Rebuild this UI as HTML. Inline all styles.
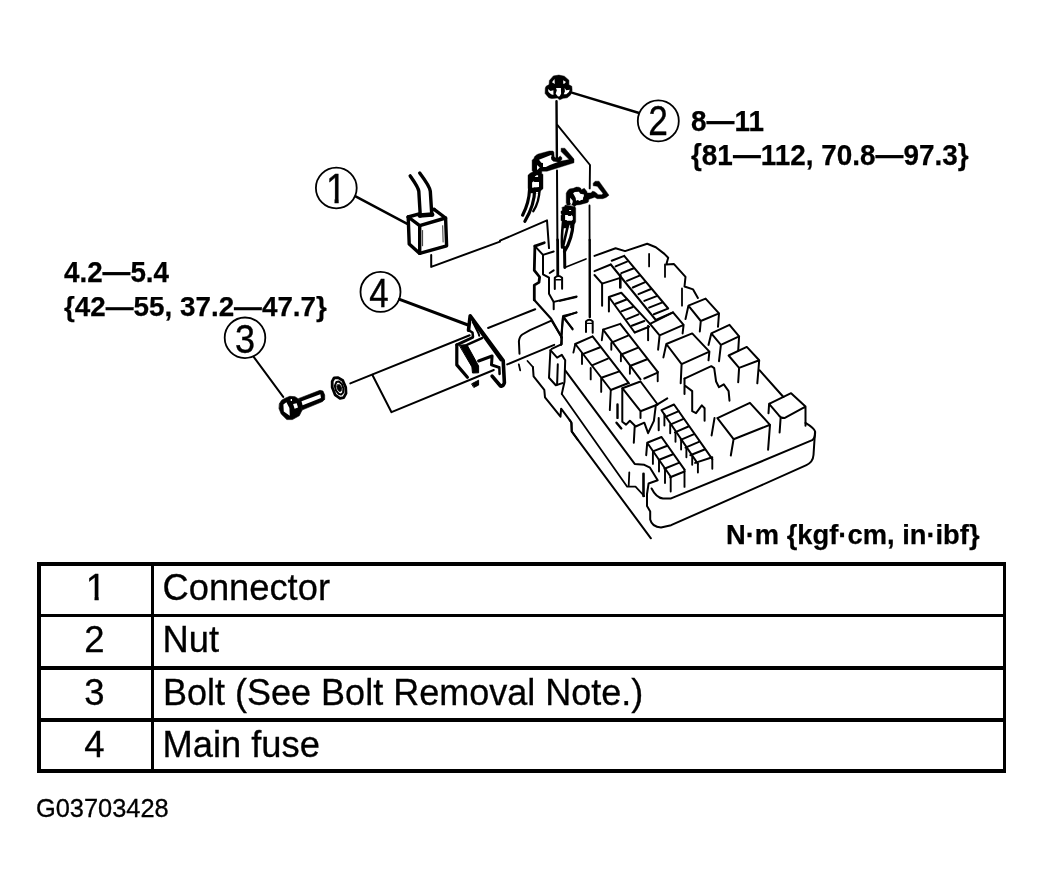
<!DOCTYPE html>
<html><head><meta charset="utf-8"><title>Main fuse removal</title>
<style>
html,body{margin:0;padding:0;background:#fff;}
body{filter:grayscale(1);width:1044px;height:893px;position:relative;overflow:hidden;font-family:"Liberation Sans",sans-serif;color:#000;}
.lbl{position:absolute;-webkit-text-stroke:0.25px #000;font-weight:bold;font-size:27.5px;line-height:1;white-space:nowrap;transform-origin:0 0;}
.tb{position:absolute;background:#000;}
.num,.txt,#code{-webkit-text-stroke:0.3px #000;}
.num{position:absolute;left:39.5px;width:110px;text-align:center;font-size:36.5px;line-height:1;}
.txt{position:absolute;left:162.5px;font-size:36.3px;line-height:1;white-space:nowrap;transform-origin:0 0;}
.cn{position:absolute;width:40px;text-align:center;font-size:40px;line-height:1;transform:scaleX(.86);-webkit-text-stroke:0.4px #000;}
.one{display:inline-block;clip-path:polygon(0 -10%,100% -10%,100% 73.6%,.352em 73.6%,.352em 110%,.238em 110%,.238em 73.6%,0 73.6%);}
#code{position:absolute;left:36px;top:796px;font-size:25.4px;line-height:1;transform-origin:0 0;}
svg{position:absolute;left:0;top:0;}
</style></head><body>
<svg id="art" width="1044" height="893" viewBox="0 0 1044 893">
<g id="callouts" fill="none" stroke="#000" stroke-width="1.8">
<circle cx="336.3" cy="188" r="20.4"/>
<circle cx="658.3" cy="120.9" r="20.5"/>
<circle cx="245" cy="337.8" r="20.3"/>
<circle cx="380.5" cy="291.9" r="20"/>
</g>
<g id="leaders" fill="none" stroke="#000" stroke-width="2.6" stroke-linecap="round">
<path d="M355.6,196.4 L407.3,223.8" stroke-width="2.5"/>
<path d="M571.8,92.6 L638.3,112.7" stroke-width="2.5"/>
<path d="M253.5,356.6 L283.2,396.9" stroke-width="2"/>
<path d="M399.6,299.4 L468,325" stroke-width="3"/>
</g>
<!--DRAWING-->
<g id="drawing" fill="none" stroke="#000" stroke-width="2" stroke-linecap="round" stroke-linejoin="round">
<path d="M549.1,84.5 L549.4,80.5 L553.4,75.9 L558.9,75.1 L564.3,76.2 L568.9,80.2 L568.9,84.8 L571.8,86.3 L572.1,90.3 L570.6,94.9 L567.2,97.8 L563.2,98.3 L559.7,99.8 L557.4,98.0 L551.7,98.6 L548.8,97.8 L545.1,93.4 L545.3,88.0 L546.2,86.3 Z" stroke-width="0.5" fill="#000"/>
<path d="M552.0,82.2 L554.5,79.1 L554.8,84.0 Z M563.2,80.2 L566.0,82.0 L564.0,84.0 L563.2,83.4 Z M547.9,89.1 L550.5,90.9 L553.4,90.3 L553.4,94.9 L551.1,94.3 L548.5,92.0 Z M556.0,88.0 L560.9,88.0 L561.1,93.7 L559.7,96.3 L558.0,96.6 L555.7,93.7 L556.8,90.3 Z M564.6,88.0 L566.3,90.3 L569.8,89.7 L568.9,92.0 L566.3,94.3 L563.7,94.3 L564.9,91.4 Z" stroke-width="0" fill="#fff" stroke="none"/>
<path d="M556.5,101.2 L556.9,157.7" stroke-width="2.4"/>
<path d="M557.0,170.5 L557.4,240.0" stroke-width="2.0"/>
<path d="M557.6,240.0 L557.8,275.5" stroke-width="2.8"/>
<path d="M557.5,125.1 L590.0,165.0 L589.7,188.4" stroke-width="1.9"/>
<path d="M589.5,205.5 L589.6,240.0" stroke-width="1.8"/>
<path d="M589.7,240.0 L589.8,317.0" stroke-width="2.4"/>
<path d="M532.1,170.6 L532.1,160.2 L534.1,158.2 L534.4,156.8 L536.7,154.8 L538.4,153.9 L549.3,151.0 L553.0,151.0 L553.9,152.2 L554.2,156.8 L555.9,158.1 L557.9,158.1 L560.2,155.9 L562.0,157.7 L561.7,159.7 L560.2,161.3 L569.1,159.6 L561.1,151.6 L561.1,148.2 L564.8,148.2 L574.0,159.1 L574.0,162.8 L567.7,164.8 L547.0,171.2 L541.8,171.2 L541.8,174.0 L543.0,174.3 L543.0,188.7 L540.1,191.3 L539.8,193.0 L529.2,193.0 L529.2,189.0 L528.0,188.7 L528.0,175.2 L530.1,173.2 L533.2,171.7 Z" stroke-width="0.4" fill="#000"/>
<path d="M539.0,159.7 L551.0,155.1 L551.9,155.9 L551.0,157.1 L551.3,159.4 L553.3,161.4 L557.9,162.0 L549.9,165.1 L545.9,166.9 L543.0,166.9 L543.0,163.1 L541.3,162.8 Z M537.0,165.1 L539.8,167.4 L537.5,169.7 L537.0,169.7 Z M534.9,176.6 L536.7,175.2 L538.1,175.2 L538.1,176.9 L534.9,176.9 Z M532.1,182.4 L533.5,181.2 L534.4,182.1 L539.0,182.1 L539.0,187.0 L532.1,187.8 Z M532.9,193.1 L533.5,191.9 L539.3,191.9 L539.8,193.1 Z" stroke-width="0" fill="#fff" stroke="none"/>
<path d="M529.6,189.0 C529.3,197.8 527.5,205.8 522.6,215.2" stroke-width="3.2"/>
<path d="M534.7,189.0 C534.7,200.5 530.9,211.2 524.9,221.3" stroke-width="3.2"/>
<path d="M539.6,189.0 C539.4,197.8 537.6,204.5 533.3,211.2" stroke-width="2.4"/>
<path d="M566.2,202.7 L566.2,193.2 L567.4,190.9 L569.4,188.9 L573.4,188.3 L576.3,187.1 L578.9,187.2 L580.9,188.3 L581.1,189.8 L584.3,188.3 L586.9,191.5 L587.2,192.9 L590.9,192.9 L592.4,191.2 L594.1,191.5 L596.4,192.9 L598.1,194.7 L601.8,194.7 L603.0,193.5 L597.2,186.3 L593.2,185.8 L593.2,183.2 L595.2,181.2 L599.0,181.2 L609.0,195.2 L606.1,197.5 L602.7,198.7 L597.2,198.7 L594.7,197.3 L591.2,198.4 L588.9,199.3 L588.3,202.1 L587.2,202.7 L579.7,204.7 L576.3,205.0 L574.8,206.7 L572.2,205.0 L569.9,205.0 L567.1,205.0 Z" stroke-width="0.4" fill="#000"/>
<path d="M562.2,207.3 L564.2,206.7 L565.3,205.0 L574.8,206.7 L575.7,207.9 L575.7,221.7 L574.8,223.7 L572.8,224.0 L572.8,228.1 L570.2,228.1 L570.2,224.8 L567.1,224.8 L566.8,228.1 L562.2,228.1 L562.2,221.1 L561.0,220.8 L561.0,215.4 L561.9,214.2 L561.0,213.6 L561.0,211.0 L562.2,210.8 Z" stroke-width="0.4" fill="#000"/>
<path d="M573.1,193.2 L574.8,192.1 L578.9,191.8 L580.3,193.8 L584.0,194.4 L583.7,196.7 L583.2,197.3 L582.9,199.8 L581.1,200.1 L579.7,201.0 L577.7,200.1 L576.0,200.7 L575.7,198.1 L574.5,195.8 Z M570.1,197.8 L572.2,200.1 L572.8,201.0 L572.5,202.7 L571.7,204.7 L570.1,204.7 L570.8,203.3 L570.1,202.7 Z M569.1,209.9 L571.1,209.9 L571.1,211.0 L569.1,211.0 Z M565.1,215.1 L567.6,215.1 L568.5,215.9 L570.8,215.9 L571.4,215.1 L572.8,216.5 L572.8,219.7 L571.7,220.8 L567.1,220.8 L566.5,220.0 L565.1,220.0 Z" stroke-width="0" fill="#fff" stroke="none"/>
<path d="M563.1,222.2 C562.1,231.4 561.5,239.4 562.1,247.5" stroke-width="2.6"/>
<path d="M573.2,222.2 C572.6,234.0 570.5,242.1 564.5,251.5" stroke-width="3.2"/>
<path d="M568.3,224.0 L563.1,246.1" stroke-width="2.6"/>
<path d="M564.5,247.5 L564.8,267.6" stroke-width="3"/>
<path d="M564.8,267.6 L586.0,258.9" stroke-width="1.6"/>
<path d="M408.2,217.0 L419.7,225.7 L445.6,218.0 L434.1,209.4" stroke-width="3.4"/>
<path d="M408.2,217.0 L419.2,213.8 M432.2,209.8 L434.1,209.4" stroke-width="3.4"/>
<path d="M408.2,217.0 L409.2,243.9 L419.7,253.4 L446.6,245.8 L445.6,218.0" stroke-width="3.4"/>
<path d="M419.7,225.7 L419.7,253.4" stroke-width="3.4"/>
<path d="M419.7,215.5 L432.2,214.6" stroke-width="4.5"/>
<path d="M410.2,175.9 C414.9,182.6 418.4,187.4 418.8,191.2 L420.3,216.1" stroke-width="3.4"/>
<path d="M419.7,173.0 C425.5,180.7 429.9,187.4 430.3,191.2 L431.8,215.1" stroke-width="3.4"/>
<path d="M422.6,230.5 L422.6,245.8 M442.7,225.7 L443.1,242.0" stroke-width="0.8"/>
<path d="M431.2,255.0 L431.2,266.9 L500.0,241.6"/>
<path d="M500.0,240.7 L547.0,220.3 L549.0,248.1"/>
<path d="M279.5,403.6 L281.6,400.2 L284.7,398.4 L289.8,396.3 L295.0,396.7 L298.4,398.9 L300.6,401.0 L301.9,410.5 L299.3,415.7 L292.4,419.6 L286.8,419.6 L281.2,414.0 L279.1,408.8 Z" stroke-width="0.6" fill="#000"/>
<path d="M283.4,404.5 L286.4,402.3 L289.4,407.9 L289.8,415.7 L283.8,411.4 Z M290.7,398.9 L292.0,398.9 L292.0,401.0 L290.7,401.0 Z M293.1,404.1 L296.7,403.2 L298.0,407.5 L294.6,408.8 Z" stroke-width="0" fill="#fff" stroke="none"/>
<path d="M298.9,398.4 L320.0,390.3 L323.0,391.1 L324.7,395.0 L324.7,399.3 L322.6,401.5 L301.9,410.1 Z" stroke-width="0.6" fill="#000"/>
<path d="M301.5,401.2 L320.4,394.3 L321.0,398.0 L302.6,405.2 Z" stroke-width="0" fill="#fff" stroke="none"/>
<path d="M334.2,377.8 L338.1,377.6 L342.8,380.5 L345.7,387.2 L346.0,393.3 L343.7,397.6 L340.0,398.3 L335.1,394.8 L332.2,387.2 L332.2,381.4 Z" stroke-width="2.8"/>
<path d="M336.4,382.1 L339.0,381.6 L342.0,384.2 L343.4,388.5 L343.1,392.6 L341.1,394.6 L338.5,393.7 L335.9,390.3 L334.8,385.9 Z" stroke-width="2"/>
<path d="M337.7,384.7 L339.8,384.8 L341.6,387.7 L341.1,391.1 L339.4,391.6 L337.7,389.4 L336.8,386.4 Z" stroke-width="0.8" fill="#000"/>
<path d="M350.3,383.4 L469.7,335.3"/>
<path d="M372.3,374.8 L391.5,412.2 L493.8,370.0"/>
<path d="M468.5,330.2 L470.2,315.7 L503.2,360.5 L504.4,382.8 Q503.2,386.8 500.5,386.0 L492.1,376.1" stroke-width="3.6"/>
<path d="M473.6,321.8 L501.0,359.9" stroke-width="3.2"/>
<path d="M468.5,330.2 L472.5,332.5 L473.0,336.9" stroke-width="2.5"/>
<path d="M473.0,322.4 L478.6,333.6 L479.2,335.8" stroke-width="2"/>
<path d="M499.3,367.2 L499.6,373.9" stroke-width="2.5"/>
<path d="M456.8,344.8 L456.8,364.9 L467.4,377.2" stroke-width="3.2"/>
<path d="M456.8,344.8 L472.5,337.5" stroke-width="3"/>
<path d="M459.6,345.3 L466.9,344.6 L478.6,366.0 L478.6,372.8 L472.5,373.0 L471.9,367.2 Z" stroke-width="1" fill="#000"/>
<path d="M466.9,344.8 L482.0,338.1" stroke-width="2.5"/>
<path d="M478.6,361.0 L492.1,356.0 L491.5,364.9 L498.2,367.2" stroke-width="3"/>
<path d="M471.9,383.7 L478.6,380.2 L478.6,385.1 L474.1,387.3 Z" stroke-width="1" fill="#000"/>
<path d="M488.1,328.0 L530.0,311.2 L535.2,309.2"/>
<path d="M507.2,364.4 L530.0,354.9 L554.2,344.8"/>
<path d="M519.5,353.7 L518.9,341.4 Q519.5,336.4 522.3,334.5 L530.0,330.2 L551.4,320.7"/>
<path d="M534.9,246.1 L544.3,242.8" stroke-width="2.8"/>
<path d="M534.9,246.1 L543.0,254.9 L553.7,251.5"/>
<path d="M534.9,246.1 L534.3,270.3 L539.6,277.0 L539.0,282.4 L534.3,285.1 L534.3,299.9" stroke-width="2.8"/>
<path d="M534.3,299.9 L551.1,318.7 L561.8,337.5" stroke-width="2.2"/>
<path d="M543.0,254.9 L543.0,274.3 L549.0,277.7 L549.0,293.8 L553.7,301.9 L553.7,309.3"/>
<path d="M549.7,273.0 L553.7,270.3" stroke-width="2"/>
<path d="M553.7,301.9 L576.6,296.5"/>
<path d="M554.8,289.1 L554.8,277.7 Q558.4,274.3 562.1,277.7 L562.1,288.8" stroke-width="2"/>
<path d="M555.8,279.7 L561.1,279.7" stroke-width="1.4"/>
<path d="M586.0,332.1 L586.0,321.4 Q589.3,318.0 592.7,321.4 L592.7,332.8" stroke-width="2"/>
<path d="M586.7,323.4 L592.4,323.4" stroke-width="1.4"/>
<path d="M563.1,316.0 L576.6,312.6 M563.1,316.0 L572.6,329.4 M563.1,316.0 L561.1,337.5"/>
<path d="M551.7,320.7 L561.8,337.5 L561.8,344.2 L551.7,348.9"/>
<path d="M550.4,350.2 L549.0,377.8 L555.8,385.2 L562.5,383.1" stroke-width="2"/>
<path d="M550.4,350.2 L557.1,357.6 L561.8,354.9 L565.2,360.3 L564.5,381.8 L561.8,393.9" stroke-width="2"/>
<path d="M557.8,364.3 L557.1,384.5" stroke-width="2"/>
<path d="M518.8,364.3 L520.2,370.4 M527.5,361.0 L532.9,367.0" stroke-width="1.8"/>
<path d="M532.9,367.0 L533.6,376.4 L544.3,389.9 L545.0,397.3 L560.5,416.7 L561.1,408.7 L571.2,422.1 L571.9,431.5 L577.9,440.0"/>
<path d="M565.2,370.4 L634.7,463.9 L644.3,464.8 L650.0,467.7 L657.7,480.2 L648.6,483.5 L647.0,494.0 L647.0,506.0 L650.2,511.5 L650.2,519.5 Q652.0,527.0 661.0,527.5 L671.1,525.2 L760.0,485.9 L806.4,465.1 Q813.0,462.0 813.5,455.0 L815.0,432.0"/>
<path d="M561.8,393.9 L627.2,486.7 L635.5,486.7 L644.2,496.0" stroke-width="1.8"/>
<path d="M629.3,472.4 L628.7,485.8" stroke-width="1.8"/>
<path d="M643.5,473.7 L643.5,495.9" stroke-width="2.6"/>
<path d="M569.6,420.0 L571.6,423.0 L571.6,431.4 L650.9,538.3"/>
<path d="M651.6,488.5 Q656.0,497.5 663.0,498.6 L671.1,498.4 L760.0,462.0 L812.2,440.2 Q815.5,438.0 815.1,431.5 Q814.0,428.0 805.5,422.9"/>
<path d="M594.5,255.9 L615.6,248.2 L625.1,251.1 L647.2,243.8 L655.8,247.2 L664.4,253.9 L668.2,257.8 L666.3,264.5 L674.0,264.1 L685.5,276.9 L684.5,286.5 L693.1,289.4 L697.9,298.0"/>
<path d="M649.1,253.9 L649.1,266.4 M665.0,264.5 L665.0,276.9 M682.0,288.4 L682.0,305.7" stroke-width="1.8"/>
<path d="M594.5,271.2 L610.8,264.5"/>
<path d="M594.5,275.0 L602.1,283.6 L620.3,277.9"/>
<path d="M602.1,283.6 L602.1,305.7"/>
<path d="M620.3,275.0 L620.3,287.5" stroke-width="2.6"/>
<path d="M610.8,264.5 L655.8,320.0 M624.2,255.9 L668.2,308.5 M611.7,260.7 L624.2,255.9"/>
<path d="M615.6,266.4 L627.0,261.6 M621.3,273.1 L633.8,268.3 M627.0,280.8 L639.5,275.6 M632.8,287.5 L645.2,282.1 M638.5,294.2 L651.0,289.0 M644.3,300.9 L656.7,296.1 M649.1,307.6 L662.5,302.4 M653.9,314.3 L667.3,308.9 M655.8,320.0 L673.0,312.4"/>
<path d="M608.9,297.0 L621.3,292.8 M608.9,297.0 L608.9,311.4 M608.9,297.0 L634.7,332.5 M621.3,292.8 L650.0,323.9"/>
<path d="M615.6,303.8 L627.0,299.3 M621.3,311.4 L632.8,307.0 M627.0,319.1 L638.5,314.3 M631.8,325.8 L644.3,321.0 M634.7,332.5 L649.1,326.7 M648.1,325.8 L648.1,340.2"/>
<path d="M650.0,323.9 L673.0,312.4 L683.6,324.8 L659.6,335.4 Z M659.6,335.4 L658.1,349.7 M683.6,324.8 L682.6,333.4"/>
<path d="M688.4,305.7 L705.6,298.6 L719.0,313.3 L700.8,321.0 Z M688.4,305.7 L685.5,319.1 M700.8,321.0 L699.8,331.5 M719.0,313.3 L718.0,326.7"/>
<path d="M711.3,333.4 L729.5,324.8 L739.1,336.3 L720.9,344.9 Z M711.3,333.4 L708.5,344.9 M720.9,344.9 L719.0,361.2 M739.1,336.3 L738.2,350.7"/>
<path d="M728.6,355.5 L746.8,346.9 L759.2,360.3 L739.1,367.9 Z M739.1,367.9 L738.2,382.3 M759.2,360.3 L757.3,383.3"/>
<path d="M666.3,344.0 L692.2,333.4 L709.4,351.6 L681.6,364.1 Z M666.3,344.0 L663.4,357.4 M681.6,364.1 L680.7,383.3 M709.4,351.6 L708.5,360.3"/>
<path d="M575.3,344.0 L592.6,336.3 M575.3,344.0 L610.8,390.0 M592.6,336.3 L629.0,383.3"/>
<path d="M583.9,353.6 L600.2,347.2 M592.6,365.1 L607.9,358.7 M602.1,377.5 L619.4,371.4 M610.8,390.0 L628.0,383.3"/>
<path d="M575.3,344.0 L573.4,352.6 M582.0,353.6 L582.0,364.1 M590.7,367.9 L590.7,379.4 M601.2,378.5 L601.2,391.9 M610.8,390.0 L609.8,410.1" stroke-width="1.9"/>
<path d="M603.1,329.6 L620.3,323.9 M603.1,329.6 L640.5,379.4 M620.3,323.9 L657.7,371.8"/>
<path d="M612.7,342.1 L628.0,335.7 M621.3,354.5 L637.6,347.8 M629.9,366.0 L647.2,359.3 M644.3,378.5 L657.7,372.7"/>
<path d="M603.1,329.6 L601.8,340.2 M611.3,343.0 L611.3,349.7 M620.9,354.5 L620.9,361.2 M629.9,366.0 L629.9,373.7 M657.7,371.8 L657.7,381.3" stroke-width="1.9"/>
<path d="M560.0,300.9 L576.3,297.0"/>
<path d="M562.9,317.2 L576.3,312.4 M562.9,317.2 L572.5,328.7 M562.9,317.2 L561.0,344.9"/>
<path d="M622.3,388.2 L640.5,381.5 L657.7,404.5 L640.5,411.2 Z M640.5,411.2 L640.5,417.9"/>
<path d="M622.3,388.2 L622.3,421.7 L626.1,424.6 L629.9,420.8 L635.7,426.5 L644.3,422.7 L648.1,433.2 L653.9,420.8 L655.8,405.4 L667.3,398.4"/>
<path d="M634.7,426.5 L633.8,442.8 M658.7,417.9 L658.7,430.3"/>
<path d="M617.5,404.5 L617.5,417.9 M616.5,422.7 L621.3,428.4" stroke-width="2.4"/>
<path d="M661.5,410.2 L674.0,404.5 M661.5,410.2 L697.9,463.9 M674.0,404.5 L712.3,459.1"/>
<path d="M665.4,416.9 L678.8,411.2 M670.2,424.6 L683.6,418.9 M674.9,432.3 L688.4,426.5 M680.7,439.9 L694.1,434.2 M685.5,447.6 L698.9,441.8 M690.3,455.2 L704.6,449.5 M695.1,462.9 L712.3,457.2"/>
<path d="M664.4,414.1 L664.4,425.6 M670.2,425.6 L670.2,433.2 M675.5,433.2 L675.5,441.8 M681.1,440.9 L681.1,449.5 M686.4,448.5 L686.4,457.2 M692.2,456.2 L692.2,464.8 M697.9,463.9 L697.9,472.5 M712.3,459.1 L712.3,468.7" stroke-width="1.9"/>
<path d="M647.2,442.8 L661.5,437.0 M647.2,442.8 L646.2,455.2 M647.2,442.8 L671.1,477.3 M661.5,437.0 L684.5,469.6"/>
<path d="M652.9,451.4 L667.3,445.7 M658.7,460.0 L673.0,454.3 M664.4,468.7 L678.8,462.9 M670.2,477.3 L684.5,471.5"/>
<path d="M652.9,452.4 L652.9,463.9 M659.0,461.0 L659.0,471.5 M665.0,469.6 L665.0,483.0 M670.7,477.3 L670.7,491.6 M684.5,469.6 L684.5,486.9" stroke-width="1.9"/>
<path d="M684.5,378.6 L711.3,366.2 L714.2,368.1 L716.1,381.5 L719.0,387.2 L723.8,384.4 L728.6,391.1 L729.5,400.7"/>
<path d="M684.5,378.6 L684.5,393.9 M684.5,385.3 L692.2,391.1 L692.2,411.2 L696.0,413.1 L701.8,405.4 L704.6,408.3 L704.6,420.8"/>
<path d="M717.4,418.1 L749.9,402.8 L770.0,424.8 L733.6,439.2 Z M714.5,418.1 L711.6,435.4 M733.6,439.2 L730.8,455.5 M770.0,424.8 L768.1,449.7"/>
<path d="M769.1,403.8 L791.1,393.2 L805.5,406.6 L784.4,418.1 Q780.6,418.1 778.7,415.2 Z M769.1,403.8 L768.5,413.3 M780.6,418.1 L779.6,432.5 M805.5,406.6 L805.5,425.8"/>
<path d="M759.5,370.2 L783.4,397.0"/>
</g>
<!--/DRAWING-->
</svg>

<div class="cn" style="left:316.1px;top:168.2px;font-size:42px;transform:scaleX(.86);"><span class="one">1</span></div>
<div class="cn" style="left:637.5px;top:100.2px;font-size:42px;transform:scaleX(.84);">2</div>
<div class="cn" style="left:224.8px;top:319.4px;font-size:40.5px;transform:scaleX(.89);">3</div>
<div class="cn" style="left:358.5px;top:272.5px;font-size:40.5px;transform:scaleX(.86);">4</div>

<div class="lbl" style="left:691px;top:106.2px;font-size:30px;transform:scaleX(.93);">8—11</div>
<div class="lbl" style="left:691px;top:140.5px;font-size:29px;transform:scaleX(.962);">{81—112, 70.8—97.3}</div>
<div class="lbl" style="left:63.5px;top:258.3px;font-size:29px;transform:scaleX(.958);">4.2—5.4</div>
<div class="lbl" style="left:64px;top:292.2px;font-size:28.5px;transform:scaleX(.976);">{42—55, 37.2—47.7}</div>
<div class="lbl" style="left:725.5px;top:520.6px;font-size:28px;transform:scaleX(.976);">N·m {kgf·cm, in·ibf}</div>

<div class="tb" style="left:37px;top:562px;width:969px;height:4px;"></div>
<div class="tb" style="left:37px;top:768.8px;width:969px;height:4.6px;"></div>
<div class="tb" style="left:37px;top:562px;width:3.5px;height:211px;"></div>
<div class="tb" style="left:1003px;top:562px;width:3px;height:211px;"></div>
<div class="tb" style="left:150.6px;top:562px;width:3.7px;height:211px;"></div>
<div class="tb" style="left:37px;top:613.8px;width:969px;height:3.6px;"></div>
<div class="tb" style="left:37px;top:666px;width:969px;height:3.6px;"></div>
<div class="tb" style="left:37px;top:718.2px;width:969px;height:3.8px;"></div>

<div class="num" style="top:570px;left:41px;"><span class="one">1</span></div><div class="txt" style="top:570px;">Connector</div>
<div class="num" style="top:621.6px;">2</div><div class="txt" style="top:621.6px;">Nut</div>
<div class="num" style="top:674.9px;">3</div><div class="txt" style="top:674.9px;transform:scaleX(.992);">Bolt (See Bolt Removal Note.)</div>
<div class="num" style="top:726.6px;">4</div><div class="txt" style="top:726.6px;">Main fuse</div>

<div id="code">G03703428</div>
</body></html>
